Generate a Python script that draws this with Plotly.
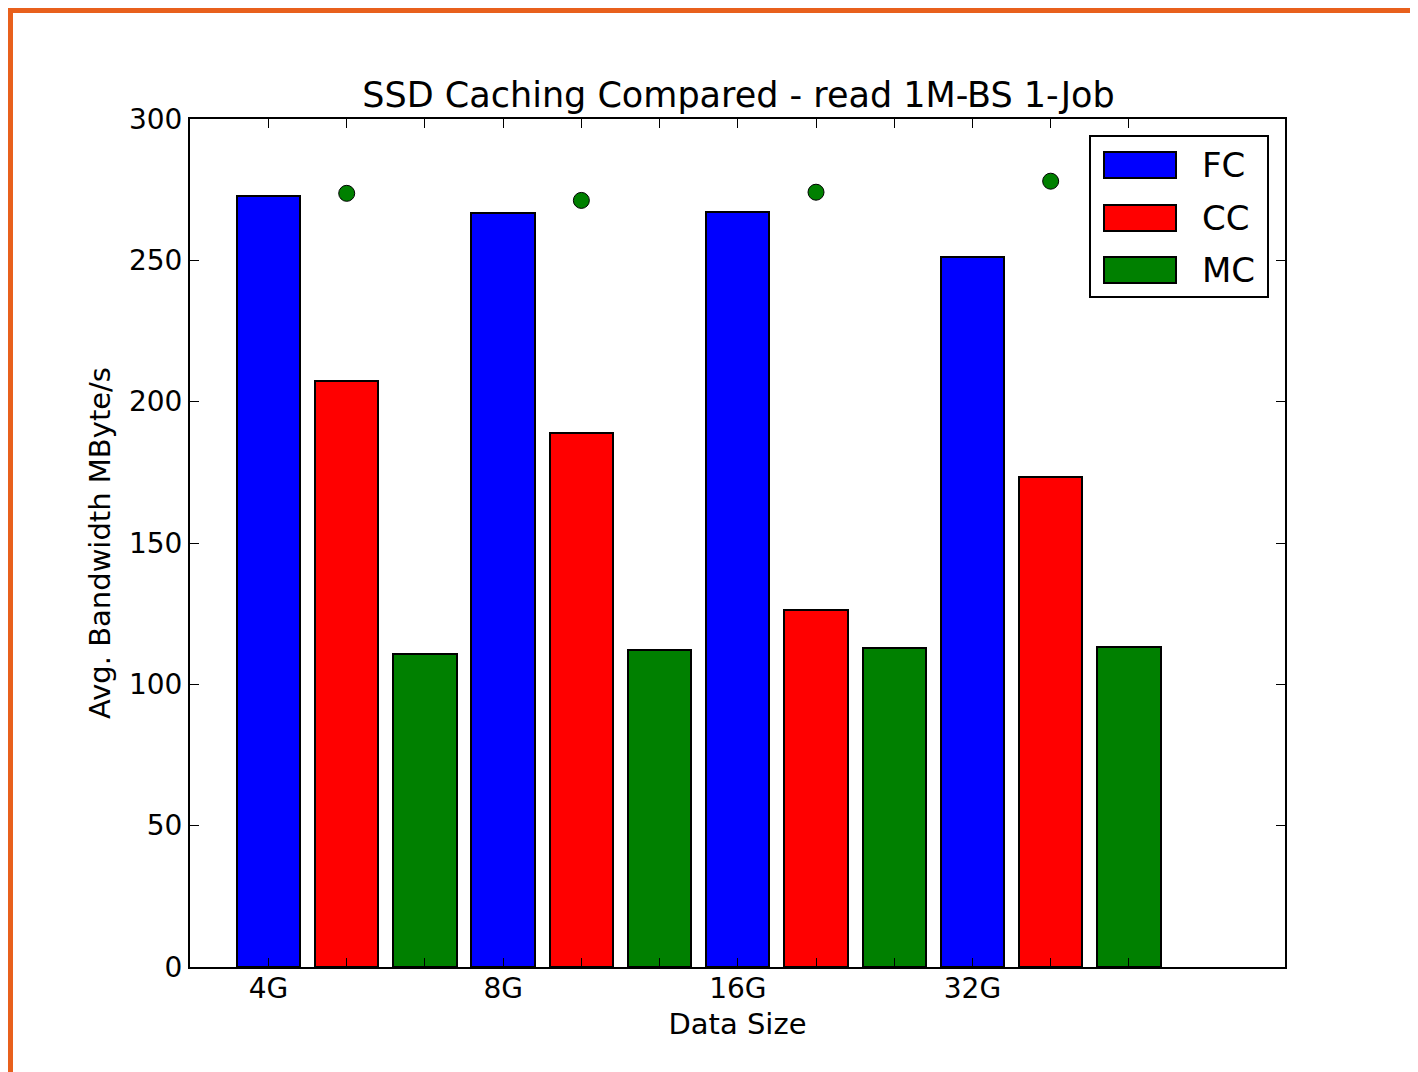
import plotly.graph_objects as go

categories = ["4G", "8G", "16G", "32G"]
fc_values = [272.8, 266.7, 267.0, 251.2]
cc_values = [207.3, 188.9, 126.3, 173.4]
mc_values = [110.7, 112.1, 112.7, 113.2]
dot_values = [273.7, 271.2, 274.1, 278.0]
series_names = ["FC", "CC", "MC"]
series_colors = ["#0000ff", "#ff0000", "#008000"]
y_ticks = [0, 50, 100, 150, 200, 250, 300]

W, H = 1418, 1072
OFF = 8  # browser body margin
L, R, T, B = 190, 1285, 119, 967
PW, PH = R - L, B - T

def px(x):
    return (x - L) / PW

def py(y):
    return (B - y) / PH

bar_w = 0.27
offset = 1.0 / 3.0
group_x = list(range(len(categories)))

fig = go.Figure()
all_series = [fc_values, cc_values, mc_values]
tickvals, ticktext = [], []
for k, (name, vals, col) in enumerate(zip(series_names, all_series, series_colors)):
    xs = [g + k * offset for g in group_x]
    fig.add_trace(go.Bar(
        x=xs, y=vals, width=bar_w, name=name,
        marker=dict(color=col, line=dict(color="black", width=2)),
        showlegend=False,
    ))
for g in group_x:
    for k in range(3):
        tickvals.append(g + k * offset)
        ticktext.append(categories[g] if k == 0 else "")

fig.add_trace(go.Scatter(
    x=[g + offset for g in group_x], y=dot_values, mode="markers",
    marker=dict(color="#008000", size=16, line=dict(color="black", width=1)),
    showlegend=False,
))

font = "DejaVu Sans, sans-serif"
fig.update_layout(
    width=W, height=H,
    margin=dict(l=L - OFF, r=W - R + OFF, t=T - OFF, b=H - B + OFF),
    paper_bgcolor="white", plot_bgcolor="white",
    font=dict(family=font, color="black", size=28),
    bargap=0,
    title=dict(text="SSD Caching Compared - read 1M-BS 1-Job",
               x=px((L + R) / 2 + 1), xref="paper", xanchor="center",
               y=1 - (95 - OFF) / H, yanchor="middle", font=dict(size=35)),
    xaxis=dict(range=[-0.3345, 4.332], tickvals=tickvals, ticktext=ticktext,
               ticks="inside", ticklen=9, tickwidth=1.2, tickcolor="black",
               showline=True, linecolor="black", linewidth=2, mirror="allticks",
               showgrid=False, zeroline=False, tickfont=dict(size=28),
               ticklabelstandoff=-5,
               title=dict(text="Data Size", font=dict(size=29), standoff=10)),
    yaxis=dict(range=[0, 300], tickvals=y_ticks,
               ticks="inside", ticklen=9, tickwidth=1.2, tickcolor="black",
               showline=True, linecolor="black", linewidth=2, mirror="allticks",
               showgrid=False, zeroline=False, tickfont=dict(size=28),
               title=dict(text="Avg. Bandwidth MByte/s", font=dict(size=29), standoff=10)),
)

# Legend drawn manually (matplotlib style)
shapes = [dict(type="rect", xref="paper", yref="paper",
               x0=px(1090), x1=px(1268), y0=py(297), y1=py(136),
               line=dict(color="black", width=2), fillcolor="white", layer="above")]
annotations = []
patch_tops = [152, 205, 257]
for name, col, top in zip(series_names, series_colors, patch_tops):
    shapes.append(dict(type="rect", xref="paper", yref="paper",
                       x0=px(1104), x1=px(1176), y0=py(top + 26), y1=py(top),
                       line=dict(color="black", width=2), fillcolor=col, layer="above"))
    annotations.append(dict(text=name, xref="paper", yref="paper",
                            x=px(1200), y=py(top + 13), xanchor="left", yanchor="middle",
                            showarrow=False, font=dict(size=34, family=font, color="black")))

# Orange frame
orange = "#E8601C"
shapes.append(dict(type="rect", xref="paper", yref="paper",
                   x0=px(7), x1=px(1430), y0=py(13), y1=py(7),
                   line=dict(width=0), fillcolor=orange, layer="above"))
shapes.append(dict(type="rect", xref="paper", yref="paper",
                   x0=px(7), x1=px(13), y0=py(1090), y1=py(7),
                   line=dict(width=0), fillcolor=orange, layer="above"))

fig.update_layout(shapes=shapes, annotations=annotations)
fig.write_html("out.html")
